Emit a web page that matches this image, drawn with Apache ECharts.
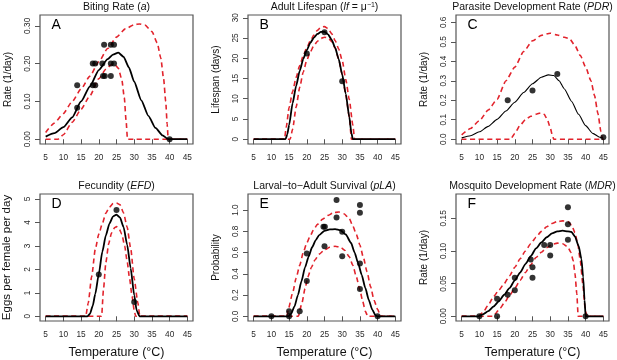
<!DOCTYPE html>
<html>
<head>
<meta charset="utf-8">
<script src="https://cdn.jsdelivr.net/npm/echarts@6/dist/echarts.min.js"></script>
<style>
html, body { margin: 0; padding: 0; background: #fff; }
#main { width: 617px; height: 360px; }
</style>
</head>
<body>
<div id="main"></div>
<script>
var xTicks = [5, 10, 15, 20, 25, 30, 35, 40, 45];

// A - biting rate
var aTicks = [0, 0.1, 0.2, 0.3];
var aMean = [[5,0.007],[7.5,0.016],[10,0.032],[12.5,0.058],[15,0.1],[17.5,0.14],[20,0.183],[22.5,0.212],[24,0.224],[25.5,0.229],[27,0.218],[28.5,0.19],[30,0.152],[32,0.103],[34,0.062],[36,0.03],[38,0.01],[39.5,0.001],[40,0],[45,0]];
var aUpper = [[5,0.018],[7.5,0.043],[10,0.068],[12.5,0.1],[15,0.133],[17.5,0.167],[20,0.205],[22.5,0.24],[25,0.27],[27.5,0.292],[30,0.303],[31.5,0.305],[33,0.302],[35,0.285],[36.5,0.255],[37.5,0.215],[38.3,0.16],[38.9,0.1],[39.3,0.04],[39.6,0],[45,0]];
var aLower = [[5,0],[8.5,0],[10,0.012],[12.5,0.045],[15,0.079],[17.5,0.115],[20,0.16],[22,0.185],[23.5,0.197],[24.5,0.198],[25.5,0.188],[26.5,0.158],[27.2,0.11],[27.7,0.05],[28.1,0],[45,0]];
var aObs = [[13.9,0.143],[13.9,0.083],[18.3,0.2],[19,0.2],[18.3,0.143],[19,0.143],[21,0.2],[21.5,0.25],[21.2,0.167],[21.7,0.167],[23.4,0.25],[24.3,0.25],[23.4,0.2],[24.3,0.2],[23.4,0.167],[40,0]];

// B - adult lifespan
var bTicks = [0, 5, 10, 15, 20, 25, 30];
var bMean = [[5,0],[14,0],[14.5,1.2],[15,3.5],[16,8.9],[17,13.2],[18,16.9],[19,19.8],[20,22],[21,23.8],[22,25.1],[23,26],[24,26.5],[25,26.5],[26,25.9],[27,24.6],[28,22.6],[29,19.8],[30,16],[31,11.2],[32,5.5],[32.6,1.5],[33,0],[45,0]];
var bUpper = [[5,0],[13.7,0],[14.2,3],[15,7.8],[16,11.8],[17,15.3],[18,18.2],[19,20.6],[20,22.6],[21,24.3],[22,25.7],[23,26.9],[24,27.7],[25,27.8],[26,27.3],[27,26.1],[28,24.4],[29,22.3],[30,19.5],[31,14.8],[32,9.8],[33,3.5],[33.5,0],[45,0]];
var bLower = [[5,0],[15.3,0],[16,2.5],[17,8],[18,12.8],[19,16.6],[20,19.5],[21,21.6],[22,23.1],[23,24.2],[24,24.9],[25,25.2],[26,25],[27,24.2],[28,22.5],[29,19.8],[30,16],[31,11],[32,5.5],[32.6,0],[45,0]];
var bObs = [[20,21.2],[25,26.4],[30,14.3]];

// C - parasite development rate
var cTicks = [0, 0.1, 0.2, 0.3, 0.4, 0.5, 0.6];
var cMean = [[5,0.007],[7.5,0.018],[10,0.038],[12.5,0.066],[15,0.102],[17.5,0.145],[20,0.19],[22.5,0.24],[25,0.285],[27.5,0.318],[29.5,0.33],[31,0.327],[32.5,0.3],[34,0.258],[36,0.195],[38,0.128],[40,0.07],[42,0.03],[44,0.01],[45,0.005]];
var cUpper = [[5,0.022],[7.5,0.055],[10,0.095],[12.5,0.15],[15,0.205],[17.5,0.3],[20,0.37],[22.5,0.45],[25,0.505],[27.5,0.533],[30,0.544],[32,0.535],[34,0.523],[35.5,0.515],[37,0.48],[38.5,0.43],[40,0.37],[41.5,0.3],[42.5,0.225],[43.5,0.13],[44.3,0.04],[44.8,0],[45,0]];
var cLower = [[5,0],[18.8,0],[20,0.03],[21.5,0.072],[23,0.1],[24.5,0.118],[26,0.128],[27.3,0.135],[28.3,0.128],[29.2,0.1],[30,0.06],[30.6,0.02],[31,0],[45,0]];
var cObs = [[18,0.2],[25,0.25],[32,0.335],[45,0.01]];

// D - fecundity
var dTicks = [0, 1, 2, 3, 4, 5];
var dMean = [[5,0],[16.8,0],[17.5,0.1],[18.3,0.45],[19,0.95],[20,1.8],[21,2.75],[22,3.45],[23,3.95],[24,4.25],[25,4.33],[26,4.2],[27,3.8],[28,3.05],[29,2.05],[30,0.9],[30.7,0.25],[31.5,0],[45,0]];
var dUpper = [[5,0],[16.3,0],[17,0.55],[18,1.7],[19,2.85],[20,3.5],[21,3.95],[22,4.4],[23,4.65],[24,4.8],[25,4.83],[26,4.75],[27,4.4],[28,3.8],[29,2.9],[30,1.6],[31,0.6],[31.6,0],[45,0]];
var dLower = [[5,0],[20.8,0],[21.3,1.1],[22,2.3],[22.8,3.1],[23.6,3.55],[24.5,3.78],[25,3.82],[25.7,3.75],[26.5,3.5],[27.3,3],[28,2.35],[28.7,1.6],[29.4,0.85],[30,0.25],[30.4,0],[45,0]];
var dObs = [[20,1.78],[25,4.53],[30,0.61]];

// E - larval-to-adult survival
var eTicks = [0, 0.2, 0.4, 0.6, 0.8, 1.0];
var eMean = [[5,0],[14.8,0],[15.5,0.02],[16.5,0.09],[17.5,0.2],[18.5,0.33],[19.5,0.46],[20.5,0.56],[21.5,0.65],[22.5,0.715],[23.5,0.765],[25,0.805],[26.5,0.818],[28,0.82],[29.5,0.81],[31,0.77],[32.5,0.69],[33.5,0.6],[34.5,0.5],[35.5,0.39],[36.5,0.27],[37.5,0.155],[38.5,0.06],[39.5,0.005],[40,0],[45,0]];
var eUpper = [[5,0],[14.4,0],[14.8,0.07],[16,0.22],[17,0.36],[18,0.48],[19,0.6],[20,0.69],[21,0.76],[22,0.82],[23,0.865],[24.5,0.915],[26,0.95],[27.5,0.975],[29,0.982],[30.5,0.965],[32,0.92],[33,0.85],[34,0.77],[35,0.67],[36,0.55],[37,0.42],[38,0.28],[39,0.15],[40,0.065],[40.7,0.015],[41.1,0],[45,0]];
var eLower = [[5,0],[17.6,0],[18.6,0.12],[19.5,0.26],[20.3,0.37],[21.3,0.46],[22.3,0.53],[23.5,0.585],[25,0.625],[26.5,0.65],[28,0.66],[29.5,0.65],[30.8,0.62],[32,0.56],[33,0.48],[34,0.37],[35,0.245],[35.8,0.14],[36.5,0.05],[37.2,0],[45,0]];
var eObs = [[10,0],[15,0.047],[15,0],[18,0.047],[20,0.59],[20,0.333],[24.7,0.843],[25.1,0.843],[25,0.66],[28.4,1.094],[28.4,0.93],[30,0.795],[30,0.566],[35,1.047],[35,0.975],[35,0.497],[35,0.258],[40,0]];

// F - mosquito development rate
var fTicks = [0, 0.05, 0.1, 0.15];
var fMean = [[5,0],[9.7,0],[11,0.003],[12.5,0.008],[14,0.015],[15.5,0.023],[17,0.033],[18.5,0.043],[20,0.055],[21.5,0.067],[23,0.08],[24.5,0.092],[26,0.104],[27.5,0.113],[29,0.121],[30.5,0.127],[32,0.13],[33.5,0.131],[35,0.13],[36,0.129],[37,0.122],[38,0.108],[38.8,0.088],[39.3,0.06],[39.7,0.025],[40,0],[45,0]];
var fUpper = [[5,0],[9.7,0],[11,0.006],[12.5,0.017],[14,0.03],[15.5,0.04],[17,0.05],[18.5,0.062],[20,0.075],[21.5,0.088],[23,0.1],[24.5,0.111],[26,0.121],[27.5,0.13],[29,0.137],[30.5,0.142],[32,0.145],[33.5,0.146],[35,0.145],[36,0.14],[37,0.128],[37.8,0.11],[38.5,0.085],[39.2,0.05],[39.8,0.015],[40.3,0],[45,0]];
var fLower = [[5,0],[13.8,0],[14.5,0.004],[15.8,0.012],[17,0.02],[18.5,0.032],[20,0.043],[21.5,0.055],[23,0.067],[24.5,0.079],[26,0.09],[27.5,0.098],[29,0.105],[30.5,0.11],[32,0.112],[33.5,0.111],[35,0.106],[35.8,0.098],[36.5,0.085],[37,0.065],[37.5,0.035],[37.9,0],[45,0]];
var fObs = [[10,0],[15,0.027],[15,0],[18,0.033],[20,0.059],[20,0.04],[24.5,0.087],[25,0.075],[25,0.059],[28.3,0.109],[30,0.109],[30,0.093],[35,0.167],[35,0.141],[35,0.117],[40,0]];

var font = '"Liberation Sans", Arial, Helvetica, sans-serif';
var red = '#e2232c';
var ink = '#111';
var boxColor = '#555';

var panels = [
	{key:'A', title:'Biting Rate ({i|a})', yName:'Rate (1/day)', left:40, top:15, height:129, yTop:0.316, ticks:aTicks, dec:2, lw:1.8, mean:aMean, upper:aUpper, lower:aLower, obs:aObs},
	{key:'B', title:'Adult Lifespan ({i|lf} = \u03bc{s|\u22121})', yName:'Lifespan (days)', left:248, top:15, height:129, yTop:29.5, ticks:bTicks, dec:0, lw:1.8, mean:bMean, upper:bUpper, lower:bLower, obs:bObs},
	{key:'C', title:'Parasite Development Rate ({i|PDR})', yName:'Rate (1/day)', left:456, top:15, height:129, yTop:0.613, ticks:cTicks, dec:1, lw:1.1, mean:cMean, upper:cUpper, lower:cLower, obs:cObs},
	{key:'D', title:'Fecundity ({i|EFD})', yName:'Eggs per female per day', nameSize:11.5, left:40, top:194, height:127, yTop:5.01, ticks:dTicks, dec:0, lw:1.8, mean:dMean, upper:dUpper, lower:dLower, obs:dObs},
	{key:'E', title:'Larval\u2212to\u2212Adult Survival ({i|pLA})', yName:'Probability', left:248, top:194, height:127, yTop:1.107, ticks:eTicks, dec:1, lw:1.8, mean:eMean, upper:eUpper, lower:eLower, obs:eObs},
	{key:'F', title:'Mosquito Development Rate ({i|MDR})', yName:'Rate (1/day)', left:456, top:194, height:127, yTop:0.18, ticks:fTicks, dec:2, lw:1.8, mean:fMean, upper:fUpper, lower:fLower, obs:fObs}
];

var W = 153;
var grids = [], xAxes = [], yAxes = [], series = [], graphics = [];

panels.forEach(function (p, i) {
	var bottomRow = i >= 3;
	grids.push({
		left: p.left, top: p.top, width: W, height: p.height,
		show: true, borderColor: boxColor, borderWidth: 1.2, backgroundColor: 'transparent',
		outerBoundsMode: 'none', containLabel: false
	});
	xAxes.push({
		type: 'value', gridIndex: i, min: 3.4, max: 46.6,
		axisLine: {show: false},
		splitLine: {show: false},
		axisTick: {show: true, inside: false, length: 5, customValues: xTicks, lineStyle: {color: boxColor, width: 1}},
		axisLabel: {customValues: xTicks, margin: 10, fontSize: 8.3, color: '#2a2a2a', fontFamily: font},
		name: bottomRow ? 'Temperature (\u00b0C)' : '',
		nameLocation: 'middle', nameGap: 25,
		nameTextStyle: {fontSize: 12.5, color: ink, fontFamily: font}
	});
	var dec = p.dec;
	yAxes.push({
		type: 'value', gridIndex: i, min: -0.04 * p.yTop, max: 1.04 * p.yTop,
		axisLine: {show: false},
		splitLine: {show: false},
		axisTick: {show: true, inside: false, length: 5, customValues: p.ticks, lineStyle: {color: boxColor, width: 1}},
		axisLabel: {
			customValues: p.ticks, rotate: 90, margin: 8, fontSize: 8.3, color: '#2a2a2a', fontFamily: font,
			formatter: function (v) { return Number(v).toFixed(dec); }
		},
		name: p.yName, nameLocation: 'middle', nameRotate: 90, nameGap: 27,
		nameTextStyle: {fontSize: p.nameSize || 10, color: ink, fontFamily: font}
	});
	[p.upper, p.lower].forEach(function (d) {
		series.push({
			type: 'line', xAxisIndex: i, yAxisIndex: i, data: d,
			showSymbol: false, symbol: 'none', smooth: 0.2, smoothMonotone: 'x',
			lineStyle: {color: red, width: 1.6, type: [5, 3.5]}, z: 2, silent: true
		});
	});
	series.push({
		type: 'line', xAxisIndex: i, yAxisIndex: i, data: p.mean,
		showSymbol: false, symbol: 'none', smooth: 0.2, smoothMonotone: 'x',
		lineStyle: {color: '#000', width: p.lw}, z: 3, silent: true
	});
	series.push({
		type: 'scatter', xAxisIndex: i, yAxisIndex: i, data: p.obs,
		symbol: 'circle', symbolSize: 6, itemStyle: {color: '#000'}, z: 4, silent: true
	});
	graphics.push({
		type: 'text', x: p.left + W / 2, y: p.top - 8,
		style: {
			text: p.title, fill: ink, fontSize: 10.5, fontFamily: font, align: 'center', verticalAlign: 'middle',
			rich: {
				i: {fontStyle: 'italic', fontSize: 10.5, fontFamily: font, fill: ink},
				s: {fontSize: 7, fontFamily: font, fill: ink, verticalAlign: 'top'}
			}
		}
	});
	graphics.push({
		type: 'text', x: p.left + 11.5, y: p.top + 10.5,
		style: {text: p.key, fill: '#000', fontSize: 14, fontFamily: font, align: 'left', verticalAlign: 'middle'}
	});
});

var myChart = echarts.init(document.getElementById('main'), null, {renderer: 'canvas'});
var option = {
	animation: false,
	backgroundColor: '#fff',
	grid: grids,
	xAxis: xAxes,
	yAxis: yAxes,
	series: series,
	graphic: graphics
};
myChart.setOption(option);
</script>
</body>
</html>
